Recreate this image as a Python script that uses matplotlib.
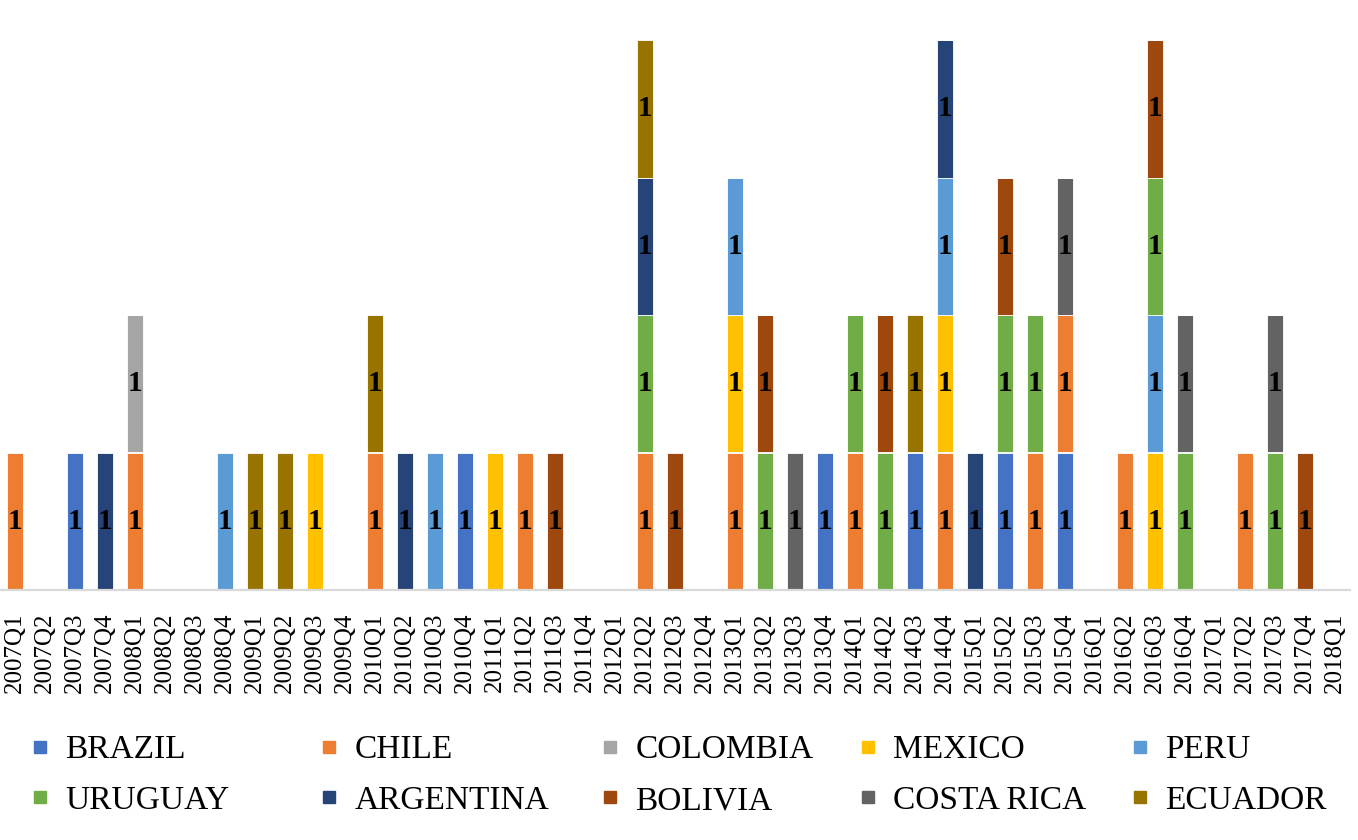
import matplotlib.pyplot as plt
from matplotlib.lines import Line2D
import numpy as np

plt.rcParams['font.family'] = ['Liberation Serif', 'DejaVu Serif']

quarters = [f"{y}Q{q}" for y in range(2007, 2018) for q in range(1, 5)] + ["2018Q1"]

brazil = [0,0,1,0,0,0,0,0,0,0, 0,0,0,0,0,1,0,0,0,0, 0,0,0,0,0,0,0,1,0,0,
          1,0,0,1,0,1,0,0,0,0, 0,0,0,0,0]
chile = [1,0,0,0,1,0,0,0,0,0, 0,0,1,0,0,0,0,1,0,0, 0,1,0,0,1,0,0,0,1,0,
         0,1,0,0,1,1,0,1,0,0, 0,1,0,0,0]
colombia = [0,0,0,0,1,0,0,0,0,0, 0,0,0,0,0,0,0,0,0,0, 0,0,0,0,0,0,0,0,0,0,
            0,0,0,0,0,0,0,0,0,0, 0,0,0,0,0]
mexico = [0,0,0,0,0,0,0,0,0,0, 1,0,0,0,0,0,1,0,0,0, 0,0,0,0,1,0,0,0,0,0,
          0,1,0,0,0,0,0,0,1,0, 0,0,0,0,0]
peru = [0,0,0,0,0,0,0,1,0,0, 0,0,0,0,1,0,0,0,0,0, 0,0,0,0,1,0,0,0,0,0,
        0,1,0,0,0,0,0,0,1,0, 0,0,0,0,0]
uruguay = [0,0,0,0,0,0,0,0,0,0, 0,0,0,0,0,0,0,0,0,0, 0,1,0,0,0,1,0,0,1,1,
           0,0,0,1,1,0,0,0,1,1, 0,0,1,0,0]
argentina = [0,0,0,1,0,0,0,0,0,0, 0,0,0,1,0,0,0,0,0,0, 0,1,0,0,0,0,0,0,0,0,
             0,1,1,0,0,0,0,0,0,0, 0,0,0,0,0]
bolivia = [0,0,0,0,0,0,0,0,0,0, 0,0,0,0,0,0,0,0,1,0, 0,0,1,0,0,1,0,0,0,1,
           0,0,0,1,0,0,0,0,1,0, 0,0,0,1,0]
costa_rica = [0,0,0,0,0,0,0,0,0,0, 0,0,0,0,0,0,0,0,0,0, 0,0,0,0,0,0,1,0,0,0,
              0,0,0,0,0,1,0,0,0,1, 0,0,1,0,0]
ecuador = [0,0,0,0,0,0,0,0,1,1, 0,0,1,0,0,0,0,0,0,0, 0,1,0,0,0,0,0,0,0,0,
           1,0,0,0,0,0,0,0,0,0, 0,0,0,0,0]

names = ["BRAZIL", "CHILE", "COLOMBIA", "MEXICO", "PERU",
         "URUGUAY", "ARGENTINA", "BOLIVIA", "COSTA RICA", "ECUADOR"]
series = [brazil, chile, colombia, mexico, peru,
          uruguay, argentina, bolivia, costa_rica, ecuador]
colors = ["#4472C4", "#ED7D31", "#A5A5A5", "#FFC000", "#5B9BD5",
          "#70AD47", "#264478", "#9E480E", "#636363", "#997300"]

fig = plt.figure(figsize=(13.58, 8.40), dpi=100)
ax = fig.add_axes([0, 1 - 590 / 840, 1350 / 1358, 550 / 840])

x = np.arange(len(quarters))
bottom = np.zeros(len(quarters))
for name, vals, c in zip(names, series, colors):
    vals = np.array(vals)
    bars = ax.bar(x, vals, 0.56, bottom=bottom, color=c, edgecolor='white',
                  linewidth=0.6, label=name)
    ax.bar_label(bars, labels=['1' if v else '' for v in vals], label_type='center',
                 fontsize=21, fontweight='bold', color='black')
    bottom += vals

ax.set_xlim(-0.5, len(quarters) - 0.5)
ax.set_ylim(0, 4)
ax.set_xticks(x)
ax.set_xticklabels(quarters, rotation=90, fontsize=18)
ax.tick_params(axis='x', length=0, pad=16)
ax.set_yticks([])
for s in ['top', 'left', 'right']:
    ax.spines[s].set_visible(False)
ax.spines['bottom'].set_color('#D9D9D9')
ax.spines['bottom'].set_linewidth(1.6)

# legend: 5 columns, two rows each
col_x = [32, 321, 602, 860, 1132]
for ci in range(5):
    hs = []
    for ri in range(2):
        k = ri * 5 + ci
        hs.append(Line2D([], [], ls='none', marker='s', markersize=8.5,
                         markerfacecolor=colors[k], markeredgecolor=colors[k],
                         label=names[k]))
    fig.legend(handles=hs, loc='upper left', bbox_to_anchor=(col_x[ci] / 1358, 1 - 735 / 840),
               frameon=False, fontsize=24, handlelength=0.45, handletextpad=0.55,
               borderpad=0, borderaxespad=0, labelspacing=0.6)

fig.savefig("out.png", dpi=100)
